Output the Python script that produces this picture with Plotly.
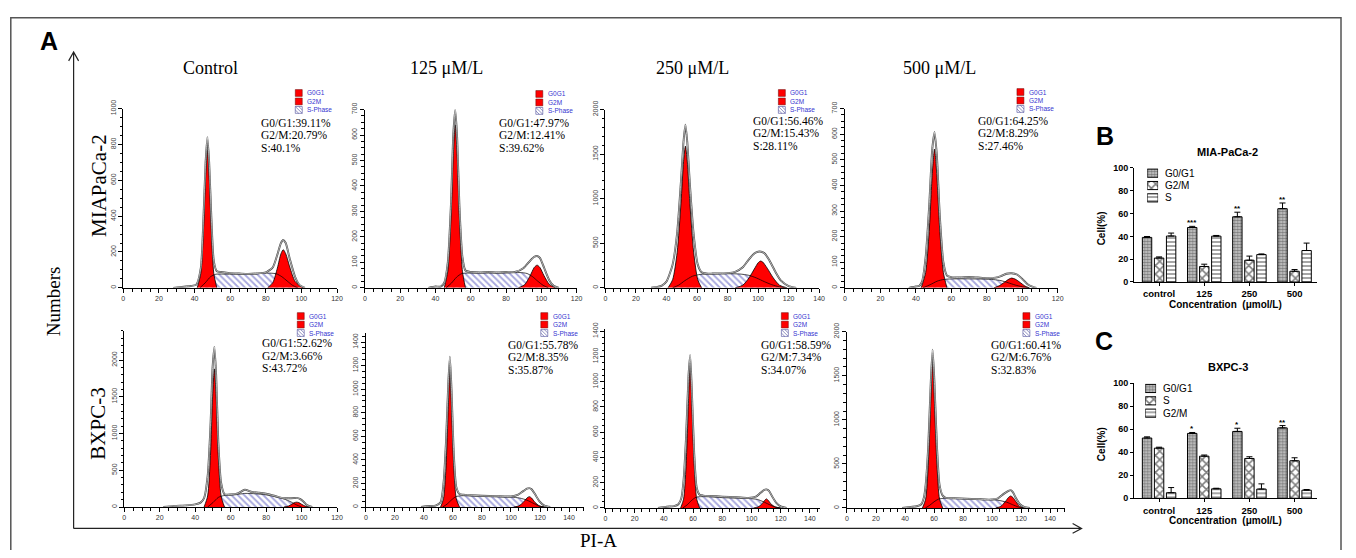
import plotly.graph_objects as go

# The page keeps the browser's default 8px body margin, so the figure is drawn 8px in from the
# window's top-left corner.  Positions below are given in window pixels and shifted by OFF.
OFF = 8
W, H = 1340, 542


def px(x):
    return (x - OFF) / W


def py(y):
    return 1 - (y - OFF) / H


# ======================= DATA =======================
col_titles = ["Control", "125 μM/L", "250 μM/L", "500 μM/L"]
row_titles = ["MIAPaCa-2", "BXPC-3"]
legend_labels = ["G0G1", "G2M", "S-Phase"]

# percentages printed on each histogram (top row MIAPaCa-2, bottom row BXPC-3)
g1_pct = ["39.11", "47.97", "56.46", "64.25", "52.62", "55.78", "58.59", "60.41"]
g2_pct = ["20.79", "12.41", "15.43", "8.29", "3.66", "8.35", "7.34", "6.76"]
s_pct = ["40.1", "39.62", "28.11", "27.46", "43.72", "35.87", "34.07", "32.83"]

# axis extents of each histogram
x_max = [120, 120, 140, 120, 120, 150, 147, 150]
y_max = [1000, 700, 2000, 700, 2400, 1480, 1420, 2000]
y_dtick = [200, 100, 500, 100, 500, 200, 200, 500]
y_minor = [50, 25, 100, 25, 100, 50, 50, 100]

# --- top row, Control ---
tc_g1_x = [41.5, 43.5, 45, 46.2, 47.2, 48.2, 49.4, 50.8, 52.5]
tc_g1_y = [0, 80, 320, 620, 770, 620, 320, 80, 0]
tc_g2_x = [81, 84, 86.5, 88.5, 89.8, 91.2, 93.5, 96.5, 101]
tc_g2_y = [0, 30, 110, 190, 213, 190, 115, 35, 0]
tc_s_x = [43, 46, 49, 52, 58, 66, 74, 82, 86, 89, 92, 95, 98]
tc_s_y = [0, 28, 62, 76, 76, 76, 78, 82, 78, 62, 38, 14, 0]
tc_env_x = [28, 34, 38, 41, 43.5, 45, 46.2, 47.2, 48.2, 49.4, 50.8, 52.5, 55, 60, 65, 70, 75, 80, 84, 86.5, 88.5,
            89.8, 91.2, 93.5, 96.5, 99, 102]
tc_env_y = [0, 6, 10, 18, 110, 390, 700, 840, 700, 400, 150, 92, 88, 82, 80, 78, 80, 86, 115, 185, 250, 267, 250,
            160, 60, 15, 0]
tc_marks = [47.2, 89.6]

# --- top row, 125 ---
t125_g1_x = [45, 47, 48.8, 50.1, 51.2, 52.3, 53.6, 55.3, 57]
t125_g1_y = [0, 65, 270, 520, 640, 520, 270, 65, 0]
t125_g2_x = [87, 90.5, 93.5, 96, 97.6, 99.2, 101.5, 104.5, 108]
t125_g2_y = [0, 12, 45, 80, 89, 80, 48, 14, 0]
t125_s_x = [46, 49, 52, 55, 62, 70, 80, 88, 92, 95, 98, 101, 104]
t125_s_y = [0, 18, 42, 56, 58, 58, 58, 60, 56, 44, 26, 10, 0]
t125_env_x = [36, 40, 43, 45, 47, 48.8, 50.1, 51.2, 52.3, 53.6, 55.3, 57, 60, 65, 70, 75, 80, 85, 90, 93.5, 96,
              97.6, 99.2, 101.5, 104.5, 107, 110]
t125_env_y = [0, 5, 5, 20, 100, 330, 600, 700, 590, 320, 120, 68, 62, 60, 62, 60, 62, 62, 78, 105, 122, 125, 118,
              80, 30, 8, 0]
t125_marks = [51.2, 97.6]

# --- top row, 250 ---
t250_g1_x = [41, 44, 47, 49.5, 51.2, 52.4, 53.6, 55.3, 57.8, 60.5, 63]
t250_g1_y = [0, 90, 400, 950, 1420, 1590, 1420, 950, 400, 90, 0]
t250_g2_x = [85, 90, 94, 97.5, 100, 101.5, 103, 106, 110, 114, 119]
t250_g2_y = [0, 30, 110, 210, 280, 300, 290, 220, 110, 30, 0]
t250_s_x = [44, 48, 52, 57, 62, 70, 80, 88, 94, 99, 104, 109, 114, 118]
t250_s_y = [0, 30, 80, 130, 150, 155, 158, 155, 140, 110, 70, 35, 10, 0]
t250_env_x = [30, 34, 37, 40, 44, 47, 49.5, 51.2, 52.4, 53.6, 55.3, 57.8, 60.5, 63, 66, 70, 75, 80, 85, 90, 94,
              97.5, 100, 102, 104, 107, 111, 115, 120, 125]
t250_env_y = [0, 10, 25, 70, 260, 620, 1200, 1650, 1830, 1640, 1170, 600, 260, 175, 160, 160, 162, 165, 180, 230,
              320, 385, 405, 405, 390, 320, 190, 80, 20, 0]
t250_marks = [52.4]

# --- top row, 500 ---
t500_g1_x = [43, 45.5, 47.5, 49.2, 50.5, 51.8, 53.5, 55.5, 57.5]
t500_g1_y = [0, 60, 220, 440, 542, 440, 220, 60, 0]
t500_g2_x = [84, 87, 90, 92.5, 94, 96, 99, 101.5, 104]
t500_g2_y = [0, 8, 22, 34, 38, 34, 20, 7, 0]
t500_s_x = [44, 48, 52, 56, 62, 70, 78, 84, 88, 92, 96, 100, 104]
t500_s_y = [0, 12, 26, 33, 35, 35, 34, 32, 28, 20, 11, 4, 0]
t500_env_x = [36, 40, 42, 43.5, 45.5, 47.5, 49.2, 50.5, 51.8, 53.5, 55.5, 57.5, 60, 65, 70, 75, 80, 85, 88, 91,
              94, 97, 100, 103, 106, 108]
t500_env_y = [0, 5, 8, 25, 120, 320, 540, 608, 520, 280, 100, 48, 42, 40, 42, 40, 38, 40, 46, 55, 57, 52, 35, 14,
              4, 0]
t500_marks = [50.5]

# --- bottom row, Control ---
bc_g1_x = [45, 47, 48.6, 49.8, 50.8, 51.8, 53, 54.6, 56.5]
bc_g1_y = [0, 150, 700, 1500, 1880, 1500, 700, 150, 0]
bc_g2_x = [90, 92.5, 94.5, 96, 97.2, 98.4, 100, 102, 104.5]
bc_g2_y = [0, 12, 38, 60, 66, 60, 38, 12, 0]
bc_s_x = [47, 50, 53, 56, 62, 68, 74, 80, 85, 90, 94, 97, 100]
bc_s_y = [0, 60, 130, 155, 165, 185, 180, 165, 140, 110, 70, 30, 0]
bc_env_x = [22, 28, 35, 40, 43, 45, 47, 48.6, 49.8, 50.8, 51.8, 53, 54.6, 56.5, 60, 64, 68, 72, 76, 80, 85, 90,
            94, 96, 97.5, 99, 101, 103, 106]
bc_env_y = [0, 15, 22, 35, 60, 120, 420, 1100, 1900, 2180, 1800, 900, 330, 175, 170, 185, 235, 205, 195, 180,
            150, 120, 120, 122, 124, 110, 75, 25, 0]
bc_marks = [50.8, 97.2]

# --- bottom row, 125 ---
b125_g1_x = [51.5, 53.5, 55.2, 56.8, 57.9, 59, 60.6, 62.3, 64.5]
b125_g1_y = [0, 70, 330, 850, 1150, 850, 330, 70, 0]
b125_g2_x = [102, 105.5, 108.5, 111, 112.6, 114.2, 116.5, 119.5, 123]
b125_g2_y = [0, 10, 40, 76, 88, 76, 40, 10, 0]
b125_s_x = [53, 56, 59, 62, 66, 72, 80, 90, 100, 106, 111, 115, 119, 123]
b125_s_y = [0, 25, 60, 88, 96, 94, 90, 86, 84, 76, 58, 34, 10, 0]
b125_env_x = [38, 44, 48, 51.5, 53.5, 55.2, 56.8, 57.9, 59, 60.6, 62.3, 64.5, 67, 72, 80, 90, 100, 105, 108.5, 111,
              112.6, 114.2, 116.5, 119.5, 123, 127]
b125_env_y = [0, 8, 12, 40, 200, 550, 1050, 1275, 1000, 450, 170, 110, 105, 100, 95, 92, 90, 105, 135, 155, 160,
              150, 110, 50, 12, 0]
b125_marks = [57.9]

# --- bottom row, 250 ---
b250_g1_x = [51.5, 53.5, 55.2, 56.9, 58, 59.1, 60.8, 62.5, 64.5]
b250_g1_y = [0, 70, 330, 850, 1147, 850, 330, 70, 0]
b250_g2_x = [101.5, 104.5, 107, 109, 110.2, 111.5, 113.5, 116.5, 120]
b250_g2_y = [0, 8, 30, 60, 72, 60, 30, 8, 0]
b250_s_x = [53, 56, 59, 62, 66, 72, 80, 90, 98, 104, 108, 112, 116, 120]
b250_s_y = [0, 25, 60, 85, 90, 88, 82, 78, 75, 68, 50, 28, 8, 0]
b250_env_x = [36, 42, 47, 50, 52, 53.5, 55.2, 56.9, 58, 59.1, 60.8, 62.5, 64.5, 67, 72, 80, 90, 98, 103, 106,
              108.5, 110.2, 112, 114, 117, 120, 124]
b250_env_y = [0, 10, 15, 30, 80, 220, 560, 1050, 1211, 950, 430, 160, 105, 98, 95, 90, 85, 80, 90, 118, 142, 147,
              135, 95, 40, 12, 0]
b250_marks = [58, 110.2]

# --- bottom row, 500 ---
b500_g1_x = [52, 54.2, 56, 57.8, 59, 60.2, 62, 63.8, 66]
b500_g1_y = [0, 100, 480, 1220, 1657, 1220, 480, 100, 0]
b500_g2_x = [102.5, 106, 109, 111.3, 112.8, 114.3, 116.5, 119, 122]
b500_g2_y = [0, 18, 70, 120, 136, 120, 70, 18, 0]
b500_s_x = [54, 57, 60, 63, 67, 74, 82, 90, 98, 104, 110, 114, 118, 122]
b500_s_y = [0, 30, 70, 100, 110, 108, 104, 100, 96, 88, 66, 38, 12, 0]
b500_env_x = [38, 44, 48, 51, 53, 54.2, 56, 57.8, 59, 60.2, 62, 63.8, 66, 68, 74, 82, 90, 98, 104, 108, 111.3,
              112.8, 114.3, 116.5, 119, 122, 126]
b500_env_y = [0, 12, 20, 40, 120, 260, 700, 1450, 1794, 1450, 700, 260, 140, 115, 110, 105, 100, 95, 110, 160, 195,
              203, 180, 110, 45, 12, 0]
b500_marks = [59, 112.8]

# --- bar charts ---
concentrations = ["control", "125", "250", "500"]
mia_series = ["G0/G1", "G2/M", "S"]
mia_g1 = [39.1, 47.8, 57.2, 64.3]
mia_g1_err = [0.8, 1.0, 4.0, 5.0]
mia_g2 = [21.0, 13.6, 19.1, 9.4]
mia_g2_err = [1.0, 2.0, 3.6, 1.5]
mia_s = [40.3, 40.2, 24.0, 27.6]
mia_s_err = [2.6, 0.6, 0.6, 6.5]
mia_sig = ["", "***", "**", "**"]

bx_series = ["G0/G1", "S", "G2/M"]
bx_g1 = [52.4, 56.4, 58.1, 61.2]
bx_g1_err = [1.0, 0.8, 2.8, 2.0]
bx_s = [43.6, 36.6, 34.6, 32.6]
bx_s_err = [0.8, 1.0, 1.5, 2.6]
bx_g2 = [4.8, 8.2, 8.0, 7.0]
bx_g2_err = [4.5, 0.5, 4.5, 0.6]
bx_sig = ["", "*", "*", "**"]

# ======================= LAYOUT CONSTANTS =======================
panels = [
    (tc_g1_x, tc_g1_y, tc_g2_x, tc_g2_y, tc_s_x, tc_s_y, tc_env_x, tc_env_y, tc_marks),
    (t125_g1_x, t125_g1_y, t125_g2_x, t125_g2_y, t125_s_x, t125_s_y, t125_env_x, t125_env_y, t125_marks),
    (t250_g1_x, t250_g1_y, t250_g2_x, t250_g2_y, t250_s_x, t250_s_y, t250_env_x, t250_env_y, t250_marks),
    (t500_g1_x, t500_g1_y, t500_g2_x, t500_g2_y, t500_s_x, t500_s_y, t500_env_x, t500_env_y, t500_marks),
    (bc_g1_x, bc_g1_y, bc_g2_x, bc_g2_y, bc_s_x, bc_s_y, bc_env_x, bc_env_y, bc_marks),
    (b125_g1_x, b125_g1_y, b125_g2_x, b125_g2_y, b125_s_x, b125_s_y, b125_env_x, b125_env_y, b125_marks),
    (b250_g1_x, b250_g1_y, b250_g2_x, b250_g2_y, b250_s_x, b250_s_y, b250_env_x, b250_env_y, b250_marks),
    (b500_g1_x, b500_g1_y, b500_g2_x, b500_g2_y, b500_s_x, b500_s_y, b500_env_x, b500_env_y, b500_marks),
]

# window-pixel boxes: x at 0, x at x_max, y at 0, y at y_max
panel_px = [
    (122, 337, 286, 102), (365, 578, 286, 103), (607, 822, 286, 103), (848, 1062, 286, 102),
    (123, 337, 511, 330), (366, 585, 511, 332), (607, 823, 512, 328), (850, 1069, 512, 331),
]
stat_pos = [(258, 117), (498, 117), (753, 115), (980, 115), (260, 343), (507, 345), (761, 345), (993, 345)]
leg_pos = [(295, 86), (537, 87), (781, 86), (1021, 85), (297, 315), (542, 315), (784, 315), (1027, 315)]

SERIF = "Liberation Serif, Times New Roman, serif"
SANS = "Liberation Sans, Arial, sans-serif"
RED = "#ff0000"
HATCH = "#5050bc"


def key(n, a):
    return f"{a}axis" if n == 1 else f"{a}axis{n}"


def ref(n, a):
    return a if n == 1 else f"{a}{n}"


fig = go.Figure()
layout = {}
shapes = []
annotations = []

# ======================= HISTOGRAMS =======================
for i, (g1x, g1y, g2x, g2y, sx, sy, ex, ey, marks) in enumerate(panels):
    n = i + 1
    xa, ya = ref(n, "x"), ref(n, "y")
    x0, x1, y0, y1 = panel_px[i]

    fig.add_trace(go.Scatter(
        x=sx, y=sy, xaxis=xa, yaxis=ya, mode="lines",
        line=dict(width=0, shape="spline", smoothing=0.7),
        fill="tozeroy", fillcolor="white",
        fillpattern=dict(shape="\\", fgcolor=HATCH, bgcolor="white", size=4.5, solidity=0.42),
        hoverinfo="skip", showlegend=False))
    for gx, gy in ((g1x, g1y), (g2x, g2y)):
        fig.add_trace(go.Scatter(
            x=gx, y=gy, xaxis=xa, yaxis=ya, mode="lines",
            line=dict(width=0.8, color="black", shape="spline", smoothing=0.7),
            fill="tozeroy", fillcolor=RED, hoverinfo="skip", showlegend=False))
    fig.add_trace(go.Scatter(
        x=sx, y=sy, xaxis=xa, yaxis=ya, mode="lines",
        line=dict(width=0.7, color="black", shape="spline", smoothing=0.7),
        hoverinfo="skip", showlegend=False))
    fig.add_trace(go.Scatter(
        x=ex, y=ey, xaxis=xa, yaxis=ya, mode="lines",
        line=dict(width=1.9, color="#454545", shape="spline", smoothing=0.6),
        hoverinfo="skip", showlegend=False))
    fig.add_trace(go.Scatter(
        x=ex, y=ey, xaxis=xa, yaxis=ya, mode="lines",
        line=dict(width=0.6, color="white", shape="spline", smoothing=0.6),
        hoverinfo="skip", showlegend=False))
    fig.add_trace(go.Scatter(
        x=marks, y=[-0.022 * y_max[i]] * len(marks), xaxis=xa, yaxis=ya, mode="markers",
        marker=dict(symbol="triangle-up", size=7, color="black"),
        cliponaxis=False, hoverinfo="skip", showlegend=False))

    layout[key(n, "x")] = dict(
        domain=[px(x0), px(x1)], anchor=ya, range=[0, x_max[i]],
        showline=True, linecolor="black", linewidth=1, showgrid=False, zeroline=False,
        ticks="outside", ticklen=4, tickwidth=1, tickcolor="black",
        tick0=0, dtick=20, tickfont=dict(family=SANS, size=7, color="#333"),
        minor=dict(dtick=5, ticks="outside", ticklen=3, tickcolor="black", showgrid=False))
    layout[key(n, "y")] = dict(
        domain=[py(y0), py(y1)], anchor=xa, range=[0, y_max[i]],
        showline=True, linecolor="black", linewidth=1, showgrid=False, zeroline=False,
        ticks="outside", ticklen=4, tickwidth=1, tickcolor="black",
        tick0=0, dtick=y_dtick[i], tickangle=-90,
        tickfont=dict(family=SANS, size=7, color="#444"),
        minor=dict(dtick=y_minor[i], ticks="outside", ticklen=2.5, tickcolor="black", showgrid=False))

    # statistics text
    sxp, syp = stat_pos[i]
    for k, t in enumerate([f"G0/G1:{g1_pct[i]}%", f"G2/M:{g2_pct[i]}%", f"S:{s_pct[i]}%"]):
        annotations.append(dict(
            x=px(sxp), y=py(syp + 12.5 * k), xref="paper", yref="paper", xanchor="left", yanchor="middle",
            text=t, showarrow=False, font=dict(family=SERIF, size=11.5, color="black")))

    # little legend
    lx, ly = leg_pos[i]
    for k, lab in enumerate(legend_labels):
        cy = ly + 8.7 * k
        if k < 2:
            shapes.append(dict(type="rect", xref="paper", yref="paper",
                               x0=px(lx), x1=px(lx + 7), y0=py(cy + 3.5), y1=py(cy - 3.5),
                               fillcolor=RED, line=dict(color="#600", width=0.5)))
        else:
            shapes.append(dict(type="rect", xref="paper", yref="paper",
                               x0=px(lx), x1=px(lx + 7), y0=py(cy + 3.5), y1=py(cy - 3.5),
                               fillcolor="white", line=dict(color="#4a4a9a", width=0.6)))
            shapes.append(dict(type="path", xref="paper", yref="paper",
                               path=f"M {px(lx)},{py(cy - 3.5)} L {px(lx + 7)},{py(cy + 3.5)} "
                                    f"M {px(lx)},{py(cy)} L {px(lx + 3.5)},{py(cy + 3.5)} "
                                    f"M {px(lx + 3.5)},{py(cy - 3.5)} L {px(lx + 7)},{py(cy)}",
                               line=dict(color="#4a4a9a", width=0.6)))
        annotations.append(dict(
            x=px(lx + 10), y=py(cy), xref="paper", yref="paper", xanchor="left", yanchor="middle",
            text=lab, showarrow=False, font=dict(family=SANS, size=6.5, color="#3535d0")))

# column / row titles
col_x = [210, 447, 695, 943]
for t, cx in zip(col_titles, col_x):
    annotations.append(dict(x=px(cx), y=py(60), xref="paper", yref="paper", text=t, showarrow=False,
                            font=dict(family=SERIF, size=18, color="black")))
row_y = [181, 425]
for t, ry in zip(row_titles, row_y):
    annotations.append(dict(x=px(97), y=py(ry), xref="paper", yref="paper", text=t, showarrow=False,
                            textangle=-90, font=dict(family=SERIF, size=21, color="black")))
annotations.append(dict(x=px(52), y=py(300), xref="paper", yref="paper", text="Numbers", showarrow=False,
                        textangle=-90, font=dict(family=SERIF, size=19, color="black")))
annotations.append(dict(x=px(600), y=py(545), xref="paper", yref="paper", text="PI-A", showarrow=False,
                        font=dict(family=SERIF, size=19, color="black")))
for lab, lxp, lyp in (("A", 47, 33), ("B", 1110, 130), ("C", 1109, 341)):
    annotations.append(dict(x=px(lxp), y=py(lyp), xref="paper", yref="paper", text=f"<b>{lab}</b>",
                            showarrow=False, font=dict(family=SANS, size=25, color="black")))

# frame (top / left / right edges) and the two axis arrows
shapes.append(dict(type="path", xref="paper", yref="paper",
                   path=f"M {px(8.8)},{py(560)} L {px(8.8)},{py(8.8)} L {px(1347)},{py(8.8)} L {px(1347)},{py(560)}",
                   line=dict(color="#555", width=1.5), layer="below"))
shapes.append(dict(type="path", xref="paper", yref="paper",
                   path=f"M {px(72)},{py(533)} L {px(72)},{py(44)} M {px(67)},{py(53)} L {px(72)},{py(44)} "
                        f"L {px(77)},{py(53)}",
                   line=dict(color="#222", width=1.2)))
shapes.append(dict(type="path", xref="paper", yref="paper",
                   path=f"M {px(72)},{py(533)} L {px(1086)},{py(533)} M {px(1077)},{py(528)} "
                        f"L {px(1086)},{py(533)} L {px(1077)},{py(538)}",
                   line=dict(color="#222", width=1.2)))

# ======================= BAR CHARTS =======================
PAT = {
    "fine": dict(shape=".", size=3, solidity=0.55, fgcolor="#2a2a2a", bgcolor="#d0d0d0"),
    "check": dict(shape="x", size=6, solidity=0.45, fgcolor="black", bgcolor="white"),
    "lines": dict(shape="-", size=4, solidity=0.35, fgcolor="black", bgcolor="white"),
}

bar_charts = [
    (9, (280, 163), "MIA-PaCa-2", 147, mia_series, [(mia_g1, mia_g1_err, "fine"), (mia_g2, mia_g2_err, "check"),
                                                     (mia_s, mia_s_err, "lines")], mia_sig, 11, (162, 200),
     (1152, 1163)),
    (10, (502, 384), "BXPC-3", 367, bx_series, [(bx_g1, bx_g1_err, "fine"), (bx_s, bx_s_err, "check"),
                                                 (bx_g2, bx_g2_err, "lines")], bx_sig, 12, (383, 421),
     (1150, 1161)),
]

for n, (yb, yt), title, ty, names, series, sig, ln, (lyt, lyb), (lx0, lx1) in bar_charts:
    xa, ya = ref(n, "x"), ref(n, "y")
    for name, (vals, err, pat) in zip(names, series):
        fig.add_trace(go.Bar(
            x=concentrations, y=vals, name=name, xaxis=xa, yaxis=ya,
            marker=dict(color=PAT[pat]["bgcolor"], line=dict(color="black", width=1),
                        pattern=PAT[pat]),
            error_y=dict(type="data", array=err, arrayminus=[0] * len(err), symmetric=False,
                         color="black", thickness=1, width=3),
            showlegend=False, hoverinfo="skip"))
    layout[key(n, "x")] = dict(
        domain=[px(1139), px(1323)], anchor=ya, type="category", range=[-0.55, 3.5],
        showline=True, linecolor="black", linewidth=1.2, ticks="outside", ticklen=3, tickcolor="black",
        showgrid=False, zeroline=False,
        tickfont=dict(family=SANS, size=9.5, color="black", weight="bold"))
    layout[key(n, "y")] = dict(
        domain=[py(yb), py(yt)], anchor=xa, range=[0, 100], dtick=20,
        showline=True, linecolor="black", linewidth=1.2, ticks="outside", ticklen=3, tickcolor="black",
        showgrid=False, zeroline=False,
        tickfont=dict(family=SANS, size=9, color="black", weight="bold"))
    # significance marks above the G0/G1 bars
    g1_vals, g1_err, _ = series[0]
    for j, s in enumerate(sig):
        if s:
            annotations.append(dict(x=j - 0.267, y=g1_vals[j] + g1_err[j], xref=xa, yref=ya, text=f"<b>{s}</b>",
                                    showarrow=False, yanchor="bottom", yshift=-3,
                                    font=dict(family=SANS, size=8, color="black")))
    annotations.append(dict(x=px(1233), y=py(ty), xref="paper", yref="paper", text=f"<b>{title}</b>",
                            showarrow=False, font=dict(family=SANS, size=11, color="black")))
    annotations.append(dict(x=px(1106), y=py((yb + yt) / 2 + 3), xref="paper", yref="paper",
                            text="<b>Cell(%)</b>", textangle=-90, showarrow=False,
                            font=dict(family=SANS, size=10, color="black")))
    annotations.append(dict(x=px(1231), y=py(yb + 23), xref="paper", yref="paper",
                            text="<b>Concentration  (μmol/L)</b>", showarrow=False,
                            font=dict(family=SANS, size=10, color="black")))

    # legend swatches drawn as small bars in a mini subplot
    lxa, lya = ref(ln, "x"), ref(ln, "y")
    for k, (name, (vals, err, pat)) in enumerate(zip(names, series)):
        fig.add_trace(go.Bar(
            x=[1], y=[k], orientation="h", xaxis=lxa, yaxis=lya, width=0.66, offset=-0.33,
            marker=dict(color=PAT[pat]["bgcolor"], line=dict(color="black", width=1), pattern=PAT[pat]),
            showlegend=False, hoverinfo="skip"))
        annotations.append(dict(x=px(lx1 + 5), y=py(lyt + (lyb - lyt) * (k + 0.5) / 3), xref="paper",
                                yref="paper", xanchor="left", yanchor="middle", text=name, showarrow=False,
                                font=dict(family=SANS, size=10, color="black")))
    layout[key(ln, "x")] = dict(domain=[px(lx0), px(lx1)], anchor=lya, range=[0, 1], visible=False,
                                fixedrange=True)
    layout[key(ln, "y")] = dict(domain=[py(lyb), py(lyt)], anchor=lxa, range=[2.5, -0.5], visible=False,
                                fixedrange=True)

for a in annotations:
    a.setdefault("xanchor", "center")
    a.setdefault("yanchor", "middle")

fig.update_layout(
    width=W, height=H, margin=dict(l=0, r=0, t=0, b=0),
    paper_bgcolor="white", plot_bgcolor="rgba(0,0,0,0)",
    barmode="group", bargap=0.2, bargroupgap=0.22,
    showlegend=False, shapes=shapes, annotations=annotations,
    **layout)

fig.write_html("out.html", config={"displayModeBar": False})
